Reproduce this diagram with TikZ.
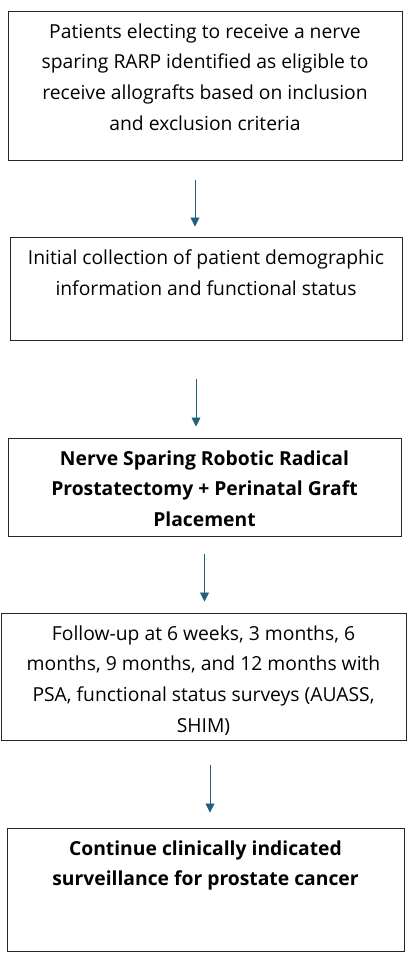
\documentclass[tikz,border=0pt]{standalone}
\usepackage{fontspec}
\setmainfont{Open Sans}
\usetikzlibrary{arrows.meta}
\definecolor{myblue}{RGB}{31,96,128}
\newcommand{\flowtext}[3]{\parbox[c][#1][t]{#2}{\centering\vspace*{12.5pt}#3}}

\begin{document}
\begin{tikzpicture}[x=1pt,y=-1pt,
    flowbox/.style={draw=black!85,line width=1pt,inner sep=0pt,font=\fontsize{19.3}{30.8}\selectfont},
    flowarrow/.style={draw=myblue,line width=0.8pt,-{Triangle[length=9pt,width=9pt]}}]

    \useasboundingbox (0,0) rectangle (408,962);% page size of the reference

    \node[flowbox,minimum width=394pt](elig) at (205,85.5) {\flowtext{149pt}{390pt}{Patients electing to receive a nerve\\ sparing RARP identified as eligible to\\ receive allografts based on inclusion\\ and exclusion criteria}};
    \node[flowbox,minimum width=392pt](intake) at (206,288.5) {\flowtext{103pt}{388pt}{Initial collection of patient demographic\\ information and functional status}};
    \node[flowbox,minimum width=393pt](surgery) at (204.5,487) {\flowtext{98pt}{389pt}{\bfseries Nerve Sparing Robotic Radical\\ Prostatectomy + Perinatal Graft\\ Placement}};
    \node[flowbox,minimum width=405pt](followup) at (203.5,676.5) {\flowtext{127pt}{401pt}{Follow-up at 6 weeks, 3 months, 6\\ months, 9 months, and 12 months with\\ PSA, functional status surveys (AUASS,\\ SHIM)}};
    \node[flowbox,minimum width=397pt](surveil) at (205.5,889.5) {\flowtext{123pt}{393pt}{\bfseries Continue clinically indicated\\ surveillance for prostate cancer}};

    \foreach \a/\b/\dx/\sa/\sb in {elig/intake/-10/19/10,intake/surgery/-10/38/11,%
        surgery/followup/0/17/11,followup/surveil/6.5/24/15}{% one arrow per step
      \draw[flowarrow,shorten <=\sa pt,shorten >=\sb pt] ([xshift=\dx pt]\a.south) -- ([xshift=\dx pt]\a.south |- \b.north);
    }

\end{tikzpicture}
\end{document}
